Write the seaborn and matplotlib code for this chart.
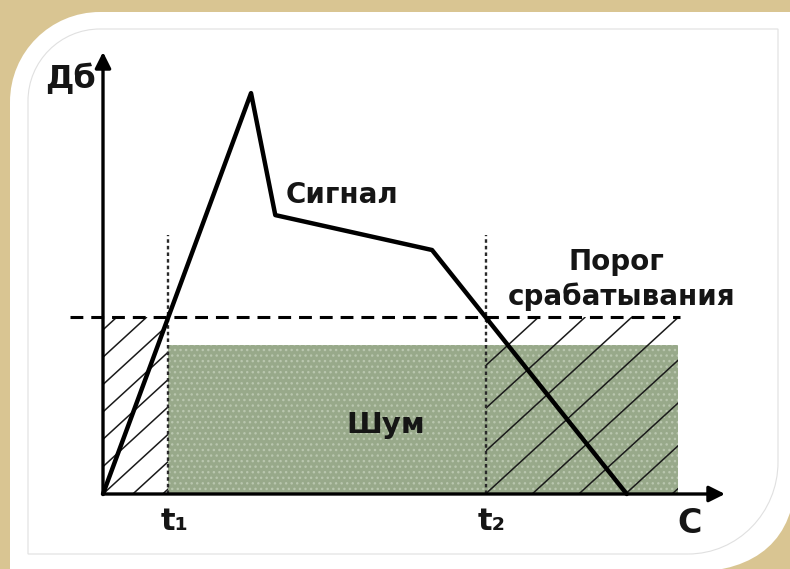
import numpy as np
import matplotlib
matplotlib.use("Agg")
import matplotlib.pyplot as plt
import seaborn as sns
from matplotlib.path import Path
from matplotlib.patches import PathPatch, Rectangle

# signal curve (time, dB)
signal_t = [0.0, 2.38, 2.77, 5.29, 8.42]
signal_db = [0.0, 9.07, 6.31, 5.52, 0.0]

threshold = 4.0          # trigger threshold level
noise_level = 3.37       # top of the noise band
t1, t2 = 1.05, 6.15      # threshold crossings
t_end = 9.25             # right end of noise / hatched zone
threshold_span = [-0.53, 9.28]
marker_top = 5.86        # top of dotted t1/t2 lines

W, H = 790, 569
PX_X, PX_Y = 62.2, 44.2   # pixels per data unit
ORIGIN = (103, 494)       # pixel position of (0, 0)


def rounded_panel(left, top, right, bottom, r_tl, rx_br, ry_br, k_br=0.5523):
    # panel with rounded top-left and bottom-right corners, pixel coords y-down
    k = 0.5523
    pts = [
        ((left, top + r_tl), Path.MOVETO),
        ((left, top + r_tl * (1 - k)), Path.CURVE4),
        ((left + r_tl * (1 - k), top), Path.CURVE4),
        ((left + r_tl, top), Path.CURVE4),
        ((right, top), Path.LINETO),
        ((right, bottom - ry_br), Path.LINETO),
        ((right, bottom - ry_br * (1 - k_br)), Path.CURVE4),
        ((right - rx_br * (1 - k_br), bottom), Path.CURVE4),
        ((right - rx_br, bottom), Path.CURVE4),
        ((left, bottom), Path.LINETO),
        ((left, top + r_tl), Path.CLOSEPOLY),
    ]
    verts = [(x / W, 1 - y / H) for (x, y), _ in pts]
    codes = [c for _, c in pts]
    return Path(verts, codes)


def hatch_rect(ax, x0, x1, y0, y1, start, step, slope):
    rect = Rectangle((x0, y0), x1 - x0, y1 - y0, fill=False, lw=0)
    ax.add_patch(rect)
    run = (y1 - y0) / slope
    k0 = int(np.floor((x0 - run - start) / step))
    k1 = int(np.ceil((x1 - start) / step))
    for k in range(k0, k1 + 1):
        c = start + k * step
        ln, = ax.plot([c, c + run], [y0, y1], color="#1a1a1a", lw=1.1, zorder=2)
        ln.set_clip_path(rect)


sns.set_style("white")
plt.rcParams["font.family"] = ["DejaVu Sans"]

fig = plt.figure(figsize=(W / 100, H / 100), dpi=100)
fig.patch.set_facecolor("#d9c592")

# white panel and its thin inner frame
fig.patches.append(PathPatch(rounded_panel(10, 12, 795, 572, 90, 105, 94, 0.64),
                             transform=fig.transFigure, facecolor="white",
                             edgecolor="none", zorder=0))
fig.patches.append(PathPatch(rounded_panel(28, 29, 778, 554, 72, 90, 92),
                             transform=fig.transFigure, facecolor="none",
                             edgecolor="#e0e0e0", lw=0.8, zorder=0))

# axes placed so that data (0, 0) sits at the origin pixel
x_lo, x_hi = -1.5, 10.5
y_lo, y_hi = -1.5, 10.5
left_px = ORIGIN[0] + x_lo * PX_X
bottom_px = H - (ORIGIN[1] - y_lo * PX_Y)
ax = fig.add_axes([left_px / W, bottom_px / H,
                   (x_hi - x_lo) * PX_X / W, (y_hi - y_lo) * PX_Y / H])
ax.set_zorder(2)
ax.set_xlim(x_lo, x_hi)
ax.set_ylim(y_lo, y_hi)
ax.set_axis_off()
ax.patch.set_alpha(0)

# noise band
ax.fill_between([t1, t_end], 0, noise_level, color="#98a98a", lw=0, zorder=1)
ax.fill_between([t1, t_end], 0, noise_level, facecolor="none",
                edgecolor="#b9c6ae", hatch="...", lw=0, zorder=1)

# hatched zones below the threshold
hatch_rect(ax, 0, t1, 0, threshold, 0.0, 0.48, 1.29)
hatch_rect(ax, t2, t_end, 0, threshold, t2, 0.75, 1.29)

# dotted markers at t1, t2
for t in (t1, t2):
    ax.plot([t, t], [0, marker_top], color="#2a2a2a", lw=1.7,
            ls=(0, (1.5, 1.3)), zorder=3)

# threshold
ax.plot(threshold_span, [threshold, threshold], color="black", lw=2.2,
        ls=(0, (4.2, 2.6)), zorder=3)

# signal
sns.lineplot(x=signal_t, y=signal_db, color="black", lw=3.2, sort=False,
             ax=ax, zorder=4)

# axes arrows
arrow = dict(arrowstyle="-|>", lw=2.4, color="black", mutation_scale=24,
             shrinkA=0, shrinkB=0)
ax.annotate("", xy=(10.0, 0), xytext=(0, 0), arrowprops=arrow, zorder=5)
ax.annotate("", xy=(0, 10.0), xytext=(0, 0), arrowprops=arrow, zorder=5)

txt = dict(fontweight="bold", color="#151515", va="baseline", zorder=6)
ax.text(-0.52, 9.19, "Дб", ha="center", fontsize=23, **txt)
ax.text(2.93, 6.58, "Сигнал", ha="left", fontsize=20, **txt)
ax.text(8.26, 5.07, "Порог", ha="center", fontsize=20, **txt)
ax.text(8.34, 4.28, "срабатывания", ha="center", fontsize=20, **txt)
ax.text(3.92, 1.38, "Шум", ha="left", fontsize=21, **txt)
ax.text(0.92, -0.81, "t₁", ha="left", fontsize=22, **txt)
ax.text(6.03, -0.81, "t₂", ha="left", fontsize=22, **txt)
ax.text(9.24, -0.88, "С", ha="left", fontsize=24, **txt)

fig.savefig("out.png", dpi=100, facecolor=fig.get_facecolor())
